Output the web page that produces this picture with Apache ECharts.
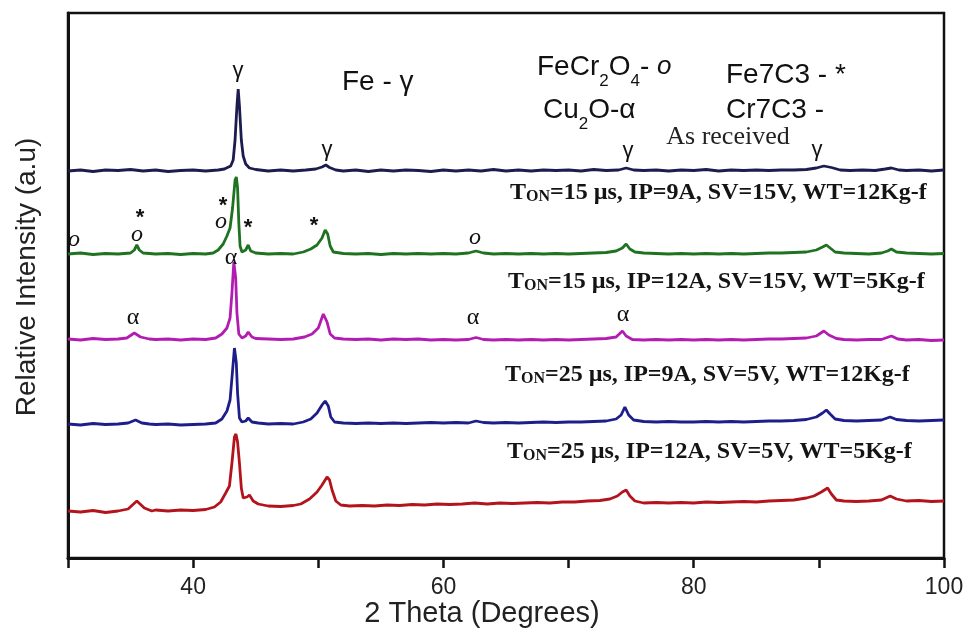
<!DOCTYPE html>
<html lang="en">

<head>
    <meta charset="UTF-8">
    <title>XRD patterns</title>
    <script type="text/javascript" src="https://cdn.jsdelivr.net/npm/echarts@6.0.0/dist/echarts.min.js"></script>
    <style>
        html, body { margin: 0; padding: 0; background: #fff; }
    </style>
</head>

<body>
    <div id="main" style="width:978px;height:630px;"></div>
</body>
<script type="text/javascript">

    // 2 theta (deg) vs relative intensity (a.u.), patterns already offset as in the figure
    var asReceived = [
        [30, 387], [31, 388], [32, 386.5], [33, 388], [34, 387.5], [35, 388.5], [36, 387], [37, 388], [38, 386.5], [39, 387.5],
        [40, 388], [41, 387], [42, 388], [42.5, 389], [43.0, 392], [43.2, 398], [43.35, 418], [43.5, 452], [43.6, 469], [43.7, 452],
        [43.85, 418], [44.0, 402], [44.2, 394], [44.5, 390], [45, 388.5], [46, 387], [47, 388], [48, 387], [49, 388], [49.8, 389],
        [50.3, 391], [50.6, 393], [50.9, 390.5], [51.4, 388], [52, 387], [53, 388], [54, 386.5], [55, 388], [56, 387], [57, 388],
        [58, 387.5], [59, 386.5], [60, 388], [61, 387], [62, 388], [63, 387], [64, 388.5], [65, 387], [66, 388], [67, 387],
        [68, 388], [69, 387.5], [70, 388], [71, 387], [72, 388.5], [73, 387.5], [74, 388], [74.6, 390], [75.2, 388], [76, 387.5],
        [77, 388], [78, 387], [79, 388], [80, 387.5], [81, 388.5], [82, 387], [83, 388], [84, 387.5], [85, 388], [86, 387.5],
        [87, 388], [88, 388], [89, 388.5], [89.8, 390], [90.4, 392], [91, 390.5], [91.7, 388], [92.5, 387.5], [93.5, 388], [94.5, 387.5],
        [95.3, 389], [95.8, 390], [96.4, 388], [97, 387.5], [98, 388], [99, 387], [100, 388]
    ];

    var ton15ip9 = [
        [30, 304], [31, 305], [32, 303.5], [33, 304.5], [34, 304], [35, 305], [35.3, 308], [35.5, 313], [35.7, 308], [36, 305],
        [37, 304], [38, 304.5], [39, 303.5], [40, 304.5], [41, 304], [41.6, 305], [42.0, 308], [42.4, 314], [42.7, 322], [42.95, 330],
        [43.15, 350], [43.35, 378], [43.45, 381], [43.55, 370], [43.65, 335], [43.75, 312], [43.9, 306], [44.2, 308], [44.4, 313], [44.6, 307],
        [45, 305], [46, 304], [47, 304.5], [48, 304], [48.8, 306], [49.4, 309], [49.9, 313], [50.3, 320], [50.55, 328], [50.75, 324],
        [50.95, 312], [51.2, 306], [52, 304.5], [53, 304], [54, 304.5], [55, 303.5], [56, 304.5], [57, 304], [58, 304.5], [59, 304],
        [60, 304.5], [61, 304], [62, 305], [62.6, 307], [63.2, 305], [64, 304], [65, 304.5], [66, 304], [67, 304.5], [68, 304],
        [69, 304.5], [70, 304], [71, 304.5], [72, 305], [73, 305.5], [73.8, 307], [74.3, 310], [74.6, 314], [74.9, 309], [75.3, 306],
        [76, 305], [77, 304.5], [78, 304], [79, 304.5], [80, 304], [81, 304.5], [82, 304], [83, 304.5], [84, 304], [85, 304.5],
        [86, 305], [87, 305], [88, 305.5], [89, 306], [89.8, 308], [90.3, 311], [90.6, 313], [90.9, 310], [91.3, 306], [92, 305],
        [93, 304.5], [94, 304], [95, 305], [95.5, 307], [95.8, 309], [96.2, 306], [97, 305], [98, 304.5], [99, 304], [100, 304.5]
    ];

    var ton15ip12 = [
        [30, 219], [31, 218], [32, 219.5], [33, 218.5], [34, 219], [34.7, 220], [35.3, 225], [35.8, 221], [36.5, 219], [37, 218.5],
        [38, 219], [39, 218], [40, 219], [41, 218.5], [41.8, 220], [42.3, 224], [42.7, 230], [42.95, 240], [43.1, 265], [43.25, 296],
        [43.4, 280], [43.5, 245], [43.65, 224], [43.9, 220], [44.2, 222], [44.4, 226], [44.7, 221], [45, 219.5], [46, 219], [47, 218.5],
        [48, 219], [48.9, 221], [49.5, 224], [50.0, 230], [50.4, 244], [50.7, 236], [50.95, 224], [51.3, 220], [52, 219], [53, 218.5],
        [54, 219], [55, 218], [56, 219], [57, 218.5], [58, 219], [59, 218], [60, 218.5], [61, 218], [62, 218.5], [62.6, 220.5],
        [63.2, 218.5], [64, 218], [65, 218.5], [66, 218], [67, 218.5], [68, 218], [69, 218.5], [70, 218], [71, 218.5], [72, 219],
        [73, 219.5], [73.8, 221], [74.3, 227], [74.6, 222], [75.1, 218.5], [76, 218], [77, 218.5], [78, 218], [79, 218.5], [80, 218],
        [81, 218.5], [82, 218], [83, 218.5], [84, 218], [85, 218.5], [86, 219], [87, 219], [88, 219.5], [89, 220], [89.8, 222],
        [90.4, 227], [90.8, 223], [91.4, 219.5], [92, 218.5], [93, 218], [94, 218.5], [95, 218.5], [95.8, 222], [96.3, 219], [97, 218],
        [98, 218.5], [99, 217.5], [100, 218]
    ];

    var ton25ip9 = [
        [30, 134], [31, 133], [32, 134.5], [33, 133.5], [34, 134], [34.8, 135], [35.4, 138], [35.9, 135], [36.5, 134], [37, 133.5],
        [38, 134], [39, 133], [40, 133.5], [41, 134], [41.8, 135], [42.3, 139], [42.7, 147], [42.95, 158], [43.1, 180], [43.3, 210],
        [43.45, 195], [43.55, 165], [43.7, 140], [43.9, 136], [44.2, 137], [44.4, 140], [44.7, 136], [45.2, 135], [46, 134], [47, 134.5],
        [48, 134], [48.8, 136], [49.4, 139], [49.9, 145], [50.3, 153], [50.55, 157], [50.8, 152], [51.0, 141], [51.3, 136], [52, 135],
        [53, 134.5], [54, 135], [55, 134.5], [56, 135], [57, 134.5], [58, 135], [59, 135.5], [60, 135], [61, 135.5], [62, 135],
        [62.6, 137], [63.2, 135.5], [64, 135], [65, 135.5], [66, 135], [67, 135.5], [68, 136], [69, 135.5], [70, 136], [71, 136],
        [72, 136.5], [73, 137], [73.8, 139], [74.2, 143], [74.5, 151], [74.8, 143], [75.2, 138], [76, 136.5], [77, 136], [78, 136.5],
        [79, 136], [80, 136], [81, 136.5], [82, 136], [83, 136.5], [84, 136], [85, 136.5], [86, 137], [87, 137], [88, 137.5],
        [89, 138.5], [89.8, 141], [90.3, 145], [90.6, 148], [90.9, 144], [91.3, 139], [92, 137.5], [93, 137], [94, 137.5], [95, 138],
        [95.7, 141], [96.2, 138.5], [97, 137.5], [98, 137], [99, 137.5], [100, 138]
    ];

    var ton25ip12 = [
        [30, 47], [31, 46], [32, 47.5], [33, 45.5], [34, 47], [34.8, 49], [35.5, 57], [36.1, 50], [36.7, 47], [37, 48],
        [38, 47], [39, 48], [40, 47.5], [41, 48.5], [41.7, 51], [42.2, 56], [42.6, 65], [42.9, 72], [43.1, 95], [43.3, 121],
        [43.42, 124], [43.55, 116], [43.7, 95], [43.85, 70], [44.0, 60], [44.3, 61], [44.5, 63], [44.8, 57], [45.2, 54], [46, 52],
        [47, 51.5], [48, 52.5], [48.6, 54], [49.3, 59], [49.9, 66], [50.3, 73], [50.7, 81], [50.9, 78], [51.1, 68], [51.4, 57],
        [51.8, 53], [52.5, 52], [53.5, 52.5], [54.5, 52], [55.5, 53], [56.5, 52.5], [57.5, 53.5], [58.5, 53], [59.5, 54], [60.5, 53.5],
        [61.5, 54], [62.5, 55], [63.5, 54], [64.5, 55], [65.5, 54.5], [66.5, 55], [67.5, 55.5], [68.5, 55], [69.5, 56], [70.5, 56],
        [71.5, 57], [72.5, 57.5], [73.3, 59], [73.9, 62], [74.3, 66], [74.6, 68], [74.9, 62], [75.3, 57], [76, 55], [77, 55.5],
        [78, 55], [79, 55.5], [80, 55], [81, 56], [82, 55.5], [83, 56], [84, 56.5], [85, 56], [86, 57], [87, 57.5],
        [88, 58], [89, 60], [89.6, 62], [90.2, 66], [90.7, 70], [91.0, 64], [91.4, 58], [92, 57], [93, 56.5], [94, 57],
        [95, 58], [95.7, 62], [96.2, 59], [97, 57], [98, 57.5], [99, 56.5], [100, 57]
    ];

    var seriesNames = ['As received',
        'TON=15 µs, IP=9A, SV=15V, WT=12Kg-f',
        'TON=15 µs, IP=12A, SV=15V, WT=5Kg-f',
        'TON=25 µs, IP=9A, SV=5V, WT=12Kg-f',
        'TON=25 µs, IP=12A, SV=5V, WT=5Kg-f'];
    var seriesData = [asReceived, ton15ip9, ton15ip12, ton25ip9, ton25ip12];
    var seriesColors = ['#1c1c4e', '#1f721f', '#b31cb3', '#1e1e8a', '#b3141c'];

    var xMin = 30, xMax = 100, xStep = 10, xLabelStep = 20;

    var SANS = '"Liberation Sans", Arial, sans-serif';
    var SERIF = '"Liberation Serif", "Times New Roman", serif';

    function txt(x, y, s, size, font, extra) {
        var st = {
            text: s, fontSize: size, fontFamily: font, fill: '#111',
            textAlign: 'center', textVerticalAlign: 'middle'
        };
        for (var k in extra) st[k] = extra[k];
        return { type: 'text', x: x, y: y, z: 100, style: st };
    }

    function tonLabel(x, y, rest) {
        return {
            type: 'text', x: x, y: y, z: 100,
            style: {
                text: '{a|T}{b|ON}{a|' + rest + '}',
                textAlign: 'left', textVerticalAlign: 'middle',
                rich: {
                    a: { fontSize: 24, fontWeight: 'bold', fontFamily: SERIF, fill: '#141414', lineHeight: 26 },
                    b: { fontSize: 16, fontWeight: 'bold', fontFamily: SERIF, fill: '#141414', lineHeight: 16, padding: [8, 0, 0, 0] }
                }
            }
        };
    }

    // subscripts are pushed down with top padding
    var subRich = {
        a: { fontSize: 28, fontFamily: SANS, fill: '#111', lineHeight: 30 },
        s: { fontSize: 17, fontFamily: SANS, fill: '#111', lineHeight: 17, padding: [28, 0, 0, 0] },
        i: { fontSize: 26, fontFamily: SANS, fontStyle: 'italic', fill: '#111', lineHeight: 30 }
    };

    var graphics = [
        // axis titles
        txt(482, 614, '2 Theta (Degrees)', 29, SANS, { fill: '#222' }),
        { type: 'text', x: 27, y: 277, rotation: Math.PI / 2, z: 100,
          style: { text: 'Relative Intensity (a.u)', fontSize: 28, fontFamily: SANS, fill: '#222',
                   textAlign: 'center', textVerticalAlign: 'middle' } },

        // phase key
        txt(342, 82, 'Fe - γ', 28, SANS, { textAlign: 'left' }),
        { type: 'text', x: 537, y: 67, z: 100,
          style: { text: '{a|FeCr}{s|2}{a|O}{s|4}{a|- }{i|o}', textAlign: 'left', textVerticalAlign: 'middle', rich: subRich } },
        txt(726, 75, 'Fe7C3 - *', 28, SANS, { textAlign: 'left' }),
        { type: 'text', x: 543, y: 110, z: 100,
          style: { text: '{a|Cu}{s|2}{a|O-α}', textAlign: 'left', textVerticalAlign: 'middle', rich: subRich } },
        txt(726, 110, 'Cr7C3 -', 28, SANS, { textAlign: 'left' }),
        txt(728, 137, 'As received', 26, SERIF, { fill: '#222' }),

        // sample conditions
        tonLabel(510, 193, '=15 µs, IP=9A, SV=15V, WT=12Kg-f'),
        tonLabel(508, 282, '=15 µs, IP=12A, SV=15V, WT=5Kg-f'),
        tonLabel(505, 375, '=25 µs, IP=9A, SV=5V, WT=12Kg-f'),
        tonLabel(507, 452, '=25 µs, IP=12A, SV=5V, WT=5Kg-f'),

        // gamma peaks (as received)
        txt(238, 71, 'γ', 22, SANS),
        txt(327, 150, 'γ', 22, SANS),
        txt(628, 151, 'γ', 22, SANS),
        txt(817, 150, 'γ', 22, SANS),

        // FeCr2O4 / Fe7C3 marks
        txt(74, 240, 'o', 24, SERIF, { fontStyle: 'italic' }),
        txt(140, 218, '*', 22, SANS, { fontWeight: 'bold' }),
        txt(137, 235, 'o', 24, SERIF, { fontStyle: 'italic' }),
        txt(223, 206, '*', 22, SANS, { fontWeight: 'bold' }),
        txt(221, 222, 'o', 24, SERIF, { fontStyle: 'italic' }),
        txt(248, 228, '*', 22, SANS, { fontWeight: 'bold' }),
        txt(314, 226, '*', 22, SANS, { fontWeight: 'bold' }),
        txt(475, 238, 'o', 24, SERIF, { fontStyle: 'italic' }),

        // Cu2O marks
        txt(231, 258, 'α', 24, SERIF),
        txt(133, 318, 'α', 24, SERIF),
        txt(473, 318, 'α', 24, SERIF),
        txt(623, 315, 'α', 24, SERIF)
    ];

    var series = [];
    for (var i = 0; i < seriesData.length; i++) {
        series.push({
            name: seriesNames[i],
            type: 'line',
            data: seriesData[i],
            showSymbol: false,
            animation: false,
            lineStyle: { color: seriesColors[i], width: 2.8 },
            itemStyle: { color: seriesColors[i] }
        });
    }

    var myChart = echarts.init(document.getElementById('main'));

    myChart.setOption({
        backgroundColor: '#fff',
        animation: false,
        grid: {
            left: 68, right: 34, top: 13, bottom: 72,
            show: true, borderColor: '#111', borderWidth: 2.5
        },
        xAxis: {
            type: 'value',
            min: xMin,
            max: xMax,
            interval: xStep,
            axisLine: { lineStyle: { color: '#111', width: 3 } },
            axisTick: { inside: false, length: 10, lineStyle: { color: '#111', width: 2.5 } },
            axisLabel: {
                margin: 18, fontSize: 23, fontFamily: SANS, color: '#222',
                formatter: function (v) { return v % xLabelStep === 0 ? String(v) : ''; }
            },
            splitLine: { show: false }
        },
        yAxis: {
            type: 'value',
            min: 0,
            max: 545,
            axisLine: { show: true, lineStyle: { color: '#111', width: 3 } },
            axisTick: { show: false },
            axisLabel: { show: false },
            splitLine: { show: false }
        },
        graphic: graphics,
        series: series
    });
</script>

</html>
